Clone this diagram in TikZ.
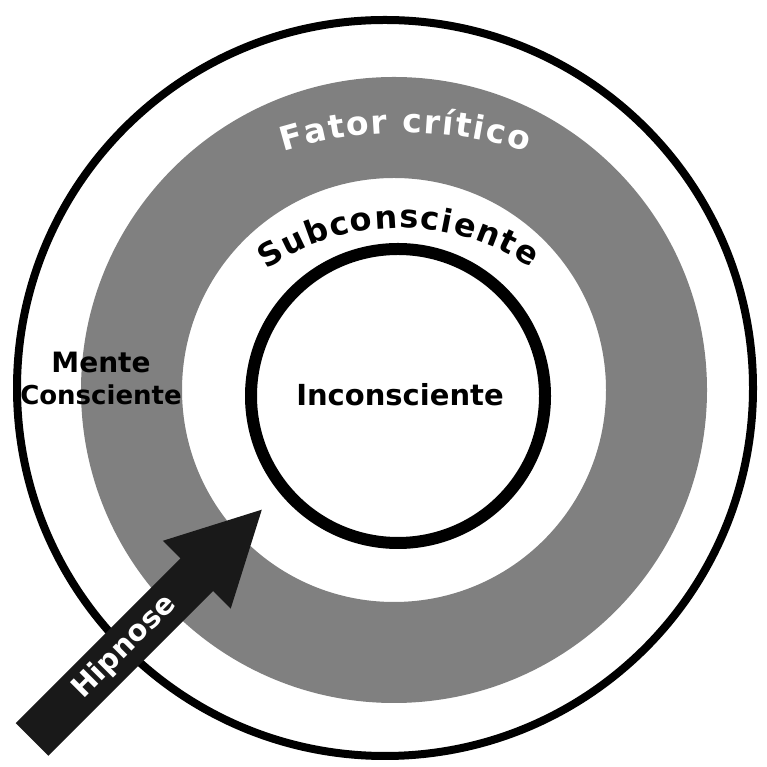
\documentclass[tikz,border=0pt]{standalone}
\usepackage{fontspec}
\setmainfont{DejaVu Sans}
\usetikzlibrary{decorations.text}
\definecolor{faixa}{gray}{0.5}

\tikzset{
    rotulo/.style={font=\bfseries\fontsize{#1}{#1}\selectfont, inner sep=0pt},
}

\begin{document}
\begin{tikzpicture}[x=1pt,y=1pt]
    \useasboundingbox (0,0) rectangle (766,767);
    \fill[white] (0,0) rectangle (766,767);
    \coordinate (O) at (394,377);
    \coordinate (C) at (398,371);

    % mente consciente, fator critico, inconsciente
    \draw[line width=8pt] (385,379) circle (368);
    \fill[faixa, even odd rule] (O) circle (313) (O) circle (212);
    \draw[line width=12pt] (C) circle (147);

    \path[decorate, decoration={text along path, text align=fit to path, text color=white,
        text={|\fontsize{33}{33}\selectfont\bfseries|Fator crítico}}]
        (405,223) ++(107.2:411) arc (107.2:72.7:411);
    \path[decorate, decoration={text along path, text align=fit to path,
        text={|\fontsize{32}{32}\selectfont\bfseries|Subconsciente}}]
        (400,304) ++(124.6:235) arc (124.6:56.3:235);

    \node[rotulo=28, anchor=base] (mente) at (101,394) {Mente};
    \node[rotulo=26, anchor=base] (consciente) at (101,362) {Consciente};
    \node[rotulo=29, anchor=base] (inconsciente) at (400,361) {Inconsciente};

    % seta
    \begin{scope}[shift={(32,27.5)}, rotate=45]
        \fill[black!90] (0,-23) -- (233,-23) -- (233,-48) -- (325,0)
            -- (233,48) -- (233,23) -- (0,23) -- cycle;
        \node[rotulo=29, text=white, rotate=45] (hipnose) at (131,0) {Hipnose};
    \end{scope}
\end{tikzpicture}
\end{document}
